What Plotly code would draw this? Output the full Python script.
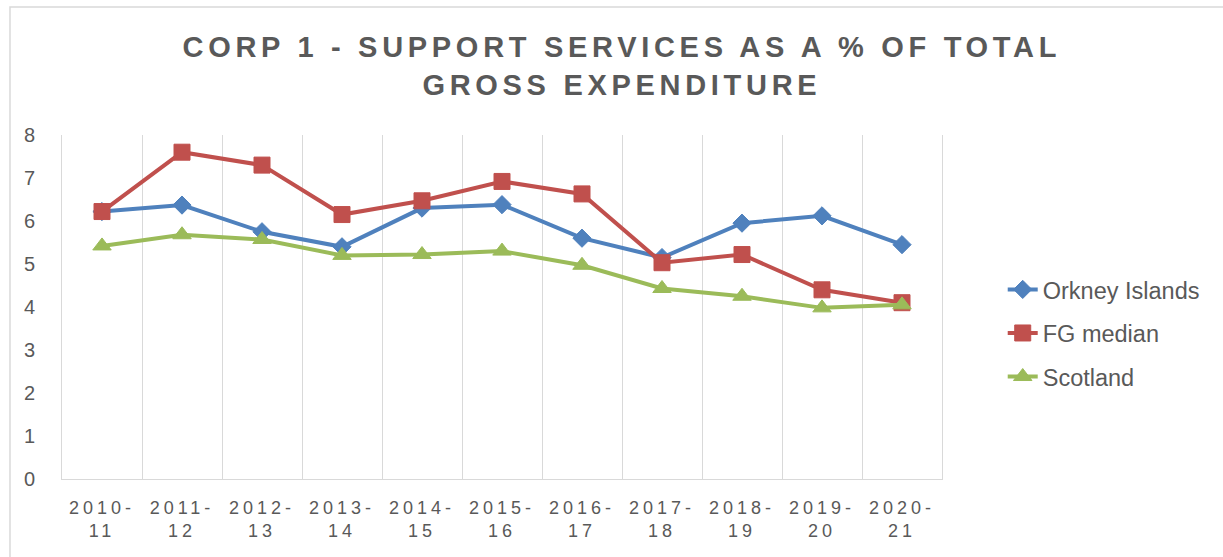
import plotly.graph_objects as go

# Financial years on the category axis
years = ["2010-11", "2011-12", "2012-13", "2013-14", "2014-15", "2015-16",
         "2016-17", "2017-18", "2018-19", "2019-20", "2020-21"]

# Support services as a % of total gross expenditure
orkney = [6.22, 6.37, 5.75, 5.40, 6.30, 6.38, 5.60, 5.15, 5.95, 6.12, 5.45]
fg_median = [6.22, 7.60, 7.30, 6.15, 6.47, 6.92, 6.63, 5.03, 5.22, 4.40, 4.10]
scotland = [5.42, 5.68, 5.57, 5.20, 5.22, 5.30, 4.97, 4.43, 4.25, 3.98, 4.05]

y_ticks = [0, 1, 2, 3, 4, 5, 6, 7, 8]

TEXT = "#595959"
GRID = "#d9d9d9"
FONT = "Liberation Sans, Arial, sans-serif"


def spaced(text, px):
    return f'<span style="letter-spacing:{px}px">{text}</span>'


def year_label(y):
    top, bottom = y.split("-")
    return spaced(top + "-", 4) + "<br>" + spaced(bottom, 4)


series = [
    ("Orkney Islands", orkney, "#4f81bd", "diamond", 14),
    ("FG median", fg_median, "#c0504d", "square", 16),
    ("Scotland", scotland, "#9bbb59", "triangle-up", 16),
]

fig = go.Figure()
for i, (name, vals, color, symbol, size) in enumerate(series):
    fig.add_trace(go.Scatter(
        x=years, y=vals, name=name, mode="lines+markers",
        legendgroup=f"g{i}",
        line=dict(color=color, width=4),
        marker=dict(symbol=symbol, size=size, color=color,
                    line=dict(color=color, width=1)),
    ))

title_lines = ["CORP 1 - SUPPORT SERVICES AS A % OF TOTAL", "GROSS EXPENDITURE"]

fig.update_layout(
    width=1223, height=557,
    margin=dict(l=62, r=281, t=135, b=78),
    paper_bgcolor="white", plot_bgcolor="white",
    font=dict(family=FONT, color=TEXT),
    title=dict(
        text="<br>".join(f"<b>{spaced(t, 4.7)}</b>" for t in title_lines),
        x=0.5085, xanchor="center",
        y=0.898, yanchor="top", yref="container",
        font=dict(family=FONT, size=29, color=TEXT),
    ),
    showlegend=True,
    legend=dict(
        x=1.069, xanchor="left", y=0.424, yanchor="middle",
        font=dict(family=FONT, size=23.5, color=TEXT),
        tracegroupgap=10, bgcolor="rgba(0,0,0,0)",
    ),
    xaxis=dict(
        type="category",
        tickmode="array", tickvals=years,
        ticktext=[year_label(y) for y in years],
        tickson="boundaries",
        range=[-0.5, len(years) - 0.5],
        showgrid=True, gridcolor=GRID, gridwidth=1,
        showline=True, linecolor=GRID, linewidth=1,
        ticks="", ticklabelstandoff=12,
        tickfont=dict(family=FONT, size=18, color=TEXT),
        zeroline=False, fixedrange=True,
    ),
    yaxis=dict(
        range=[0, 8], tickvals=y_ticks,
        showgrid=False, zeroline=False,
        showline=True, mirror=True, linecolor=GRID, linewidth=1,
        ticks="", ticklabelstandoff=22,
        tickfont=dict(family=FONT, size=20, color=TEXT),
        fixedrange=True,
    ),
)

# chart frame
fig.add_shape(type="rect", xref="paper", yref="paper",
              x0=-0.0591, x1=1.34, y0=-0.27, y1=1.372,
              line=dict(color=GRID, width=1.5), fillcolor="rgba(0,0,0,0)",
              layer="above")

fig.write_html("out.html")
